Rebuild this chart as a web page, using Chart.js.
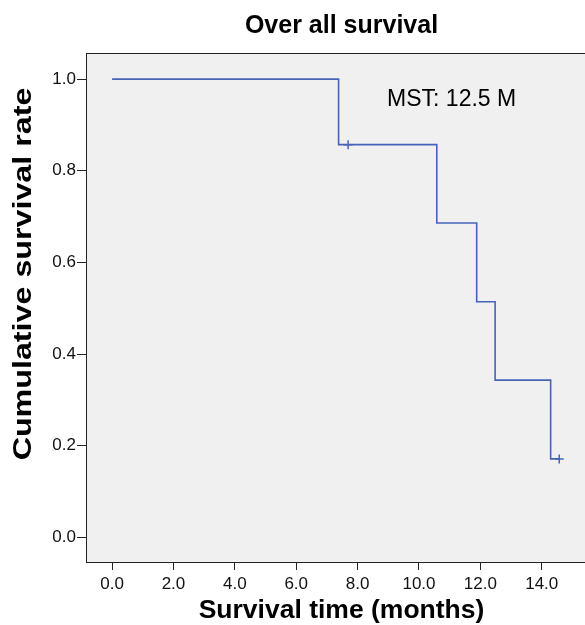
<!DOCTYPE html>
<html>
<head>
<meta charset="utf-8">
<script src="https://cdn.jsdelivr.net/npm/chart.js@4/dist/chart.umd.min.js"></script>
<style>
  html, body { margin: 0; padding: 0; background: #fff; overflow: hidden; }
  #wrap { width: 610px; height: 625px; }
</style>
</head>
<body>
<div id="wrap"><canvas id="km-chart" width="610" height="625"></canvas></div>
<script>
// Kaplan-Meier steps (months, cumulative survival)
const stepTimes = [0, 7.38, 10.58, 11.88, 12.48, 14.29, 14.57];
const stepSurv = [1.0, 0.857, 0.686, 0.514, 0.343, 0.171, 0.171];
// censored cases
const censorTimes = [7.69, 14.57];
const censorSurv = [0.857, 0.171];

const xTicks = [0, 2, 4, 6, 8, 10, 12, 14];
const yTicks = [0, 0.2, 0.4, 0.6, 0.8, 1.0];

const mstLabel = 'MST: 12.5 M';
const mstAt = [8.96, 0.941];
const yTitle = 'Cumulative survival rate';

const FONT = "'Liberation Sans', Arial, sans-serif";
const lineColor = '#4763b8';
const axisColor = '#222';

const framePlugin = {
  id: 'frame',
  beforeDraw(chart) {
    const { ctx, chartArea: a } = chart;
    ctx.save();
    ctx.fillStyle = '#f0f0f0';
    ctx.fillRect(a.left, a.top, a.right - a.left, a.bottom - a.top);
    ctx.strokeStyle = axisColor;
    ctx.lineWidth = 1;
    ctx.beginPath();
    ctx.moveTo(a.left, a.top + 0.5);
    ctx.lineTo(a.right, a.top + 0.5);
    ctx.stroke();
    ctx.restore();
  },
  afterDraw(chart) {
    const { ctx, scales } = chart;
    ctx.save();
    ctx.fillStyle = '#000';
    ctx.font = '23px ' + FONT;
    ctx.textAlign = 'left';
    ctx.textBaseline = 'alphabetic';
    ctx.fillText(mstLabel, scales.x.getPixelForValue(mstAt[0]), scales.y.getPixelForValue(mstAt[1]));
    // y axis title, a little stretched along its length like the original
    ctx.translate(24, 274);
    ctx.rotate(-Math.PI / 2);
    ctx.scale(1.24, 1);
    ctx.font = 'bold 26px ' + FONT;
    ctx.textAlign = 'center';
    ctx.textBaseline = 'middle';
    ctx.fillText(yTitle, 0, 0);
    ctx.restore();
  }
};

new Chart(document.getElementById('km-chart'), {
  type: 'line',
  data: {
    datasets: [
      {
        data: stepTimes.map((t, i) => ({ x: t, y: stepSurv[i] })),
        stepped: true,
        borderColor: lineColor,
        borderWidth: 1.6,
        pointRadius: 0,
        fill: false
      },
      {
        data: censorTimes.map((t, i) => ({ x: t, y: censorSurv[i] })),
        showLine: false,
        pointStyle: 'cross',
        pointRadius: 4.5,
        borderColor: lineColor,
        borderWidth: 1.5
      }
    ]
  },
  options: {
    responsive: false,
    animation: false,
    devicePixelRatio: 1,
    layout: { padding: { left: 0, right: 13, top: 0, bottom: 0 } },
    plugins: {
      legend: { display: false },
      tooltip: { enabled: false },
      title: {
        display: true,
        fullSize: false,
        text: 'Over all survival',
        color: '#000',
        font: { family: FONT, size: 25, weight: 'bold' },
        padding: { top: 11.4, bottom: 11.6 }
      }
    },
    scales: {
      x: {
        type: 'linear',
        min: -0.85,
        max: 15.8,
        afterBuildTicks: s => { s.ticks = xTicks.map(v => ({ value: v })); },
        afterFit: s => { s.height = 63; },
        grid: { drawOnChartArea: false, tickLength: 8, tickColor: axisColor },
        border: { display: true, color: axisColor, width: 1 },
        ticks: {
          color: '#111', padding: 4, maxRotation: 0,
          font: { family: FONT, size: 17 },
          callback: v => v.toFixed(1)
        },
        title: {
          display: true,
          text: 'Survival time (months)',
          color: '#000',
          font: { family: FONT, size: 26.5, weight: 'bold' },
          padding: { top: 0, bottom: -2 }
        }
      },
      y: {
        type: 'linear',
        min: -0.054,
        max: 1.057,
        afterBuildTicks: s => { s.ticks = yTicks.map(v => ({ value: v })); },
        afterFit: s => { s.width = 86; },
        grid: { drawOnChartArea: false, tickLength: 9, tickColor: axisColor },
        border: { display: true, color: axisColor, width: 1 },
        ticks: {
          color: '#111', padding: 1,
          font: { family: FONT, size: 17 },
          callback: v => v.toFixed(1)
        }
      }
    }
  },
  plugins: [framePlugin]
});
</script>
</body>
</html>
